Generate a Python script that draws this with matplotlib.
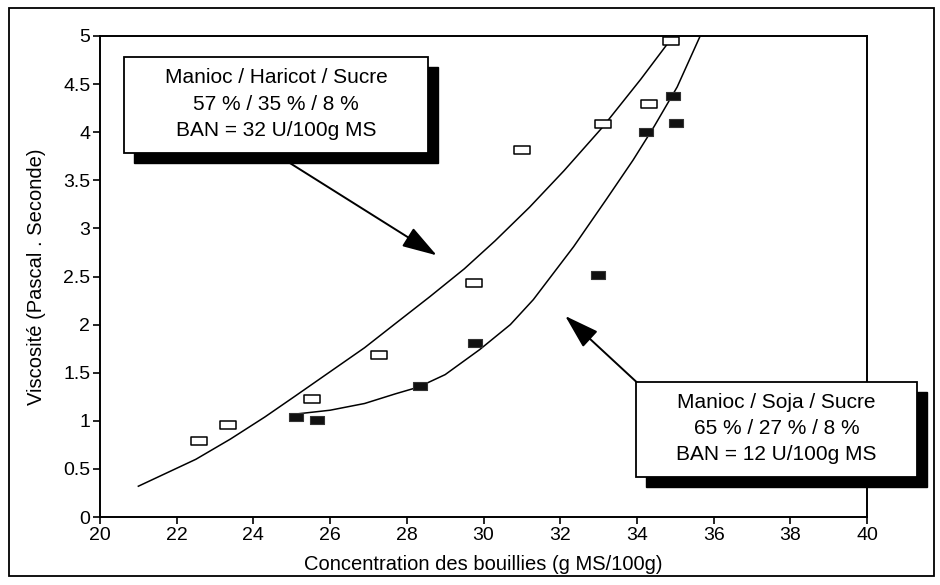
import matplotlib
matplotlib.use("Agg")
import matplotlib.pyplot as plt
from matplotlib.patches import Rectangle
from matplotlib.path import Path

plt.rcParams['font.family'] = ['Liberation Sans', 'DejaVu Sans']

# measured points, Manioc / Haricot / Sucre (open markers)
haricot_x = [22.58, 23.33, 25.54, 27.28, 29.74, 31.0, 33.12, 34.32, 34.9]
haricot_y = [0.79, 0.96, 1.23, 1.68, 2.43, 3.81, 4.09, 4.29, 4.95]

# measured points, Manioc / Soja / Sucre (filled markers)
soja_x = [25.11, 25.67, 28.34, 29.77, 32.98, 34.25, 34.93, 35.02]
soja_y = [1.04, 1.01, 1.36, 1.81, 2.52, 4.0, 4.38, 4.10]

# trend curves
curve_haricot_x = [21.0, 22.5, 23.4, 24.3, 25.1, 26.0, 26.9, 27.7, 28.6,
                   29.5, 30.3, 31.2, 32.1, 33.1, 34.1, 34.95]
curve_haricot_y = [0.32, 0.60, 0.81, 1.04, 1.26, 1.51, 1.76, 2.01, 2.29,
                   2.58, 2.87, 3.22, 3.60, 4.05, 4.55, 5.0]
curve_soja_x = [25.1, 26.0, 26.9, 27.7, 28.3, 29.0, 29.9, 30.7, 31.3,
                32.35, 33.2, 33.9, 34.45, 35.05, 35.65]
curve_soja_y = [1.07, 1.11, 1.18, 1.28, 1.35, 1.48, 1.74, 2.00, 2.26,
                2.81, 3.30, 3.71, 4.06, 4.47, 5.0]

x_ticks = [20, 22, 24, 26, 28, 30, 32, 34, 36, 38, 40]
y_ticks = [0, 0.5, 1, 1.5, 2, 2.5, 3, 3.5, 4, 4.5, 5]
y_tick_labels = ['0', '0.5', '1', '1.5', '2', '2.5', '3', '3.5', '4', '4.5', '5']

label_haricot = "Manioc / Haricot / Sucre\n57 % / 35 % / 8 %\nBAN = 32 U/100g MS"
label_soja = "Manioc / Soja / Sucre\n65 % / 27 % / 8 %\nBAN = 12 U/100g MS"

W, H = 940, 585
fig = plt.figure(figsize=(W / 100, H / 100), dpi=100)
ax = fig.add_axes([100 / W, 1 - 517 / H, 767 / W, 481 / H])

# small flat rectangle marker
rect_marker = Path([(-0.5, -0.29), (0.5, -0.29), (0.5, 0.29), (-0.5, 0.29), (-0.5, -0.29)],
                   [Path.MOVETO, Path.LINETO, Path.LINETO, Path.LINETO, Path.CLOSEPOLY])

ax.plot(curve_haricot_x, curve_haricot_y, color='black', lw=1.1, zorder=2)
ax.plot(curve_soja_x, curve_soja_y, color='black', lw=1.1, zorder=2)
ax.plot(haricot_x, haricot_y, ls='none', marker=rect_marker, ms=11,
        mfc='white', mec='black', mew=1.1, zorder=3, clip_on=False)
ax.plot(soja_x, soja_y, ls='none', marker=rect_marker, ms=10.5,
        mfc='#111111', mec='#333333', mew=0.8, zorder=3, clip_on=False)

ax.set_xlim(20, 40)
ax.set_ylim(0, 5)
ax.set_xticks(x_ticks)
ax.set_yticks(y_ticks)
ax.set_yticklabels(y_tick_labels)
ax.tick_params(direction='out', length=5, width=1.2, labelsize=14, pad=2)
for s in ax.spines.values():
    s.set_linewidth(1.4)

ax.set_xlabel("Concentration des bouillies (g MS/100g)", fontsize=14.5, labelpad=8)
ax.set_ylabel("Viscosité (Pascal . Seconde)", fontsize=14.5, labelpad=12)

# arrows from boxes toward curves
arrow_style = dict(arrowstyle="-|>,head_length=1.35,head_width=0.42",
                   color='black', lw=1.4, mutation_scale=16, shrinkA=0, shrinkB=0)
ax.annotate("", xy=(28.78, 2.72), xytext=(24.43, 3.81),
            arrowprops=arrow_style, zorder=4, annotation_clip=False)
ax.annotate("", xy=(32.13, 2.09), xytext=(34.08, 1.37),
            arrowprops=arrow_style, zorder=4, annotation_clip=False)


def label_box(x0, y0, x1, y1, text):
    # pixel coords with origin at top-left
    tr = fig.transFigure
    sh = Rectangle(((x0 + 10) / W, 1 - (y1 + 10) / H), (x1 - x0) / W, (y1 - y0) / H,
                   transform=tr, facecolor='black', edgecolor='black', zorder=6, clip_on=False)
    bx = Rectangle((x0 / W, 1 - y1 / H), (x1 - x0) / W, (y1 - y0) / H,
                   transform=tr, facecolor='white', edgecolor='black', lw=1.3,
                   zorder=7, clip_on=False)
    ax.add_patch(sh)
    ax.add_patch(bx)
    ax.text((x0 + x1) / 2 / W, 1 - (y0 + y1 - 2) / 2 / H, text, transform=tr,
            ha='center', va='center', fontsize=15, linespacing=1.48,
            zorder=8, clip_on=False)


label_box(124, 57, 428, 153, label_haricot)
label_box(636, 382, 917, 477, label_soja)

# outer frame
fig.patches.append(Rectangle((9 / W, 9 / H), 925 / W, 568 / H, transform=fig.transFigure,
                             fill=False, edgecolor='black', lw=1.3))

fig.savefig("out.png", dpi=100, facecolor='white')
